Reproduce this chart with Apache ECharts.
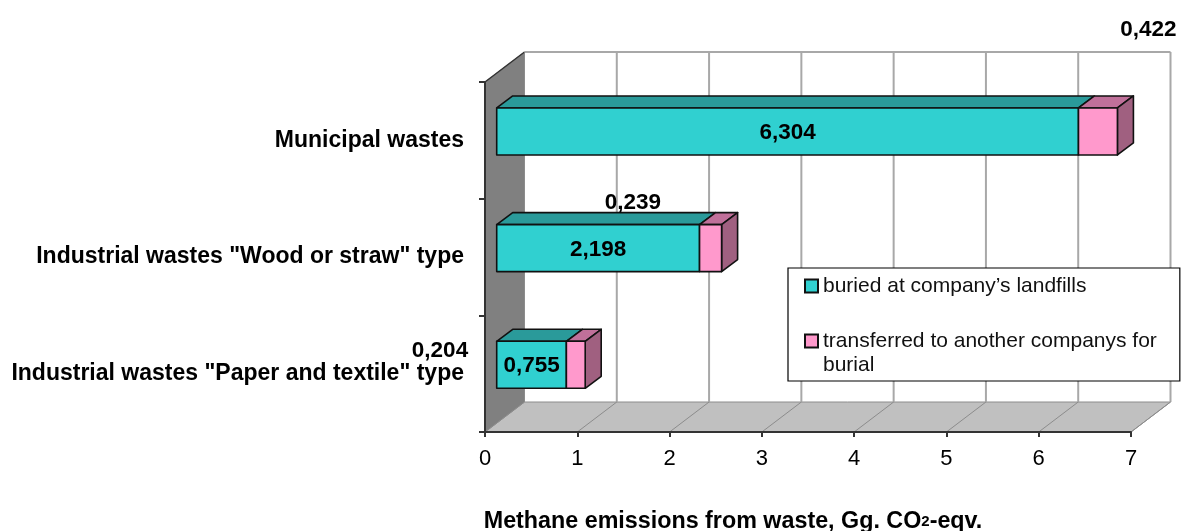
<!DOCTYPE html>
<html>
<head>
<meta charset="utf-8">
<style>html,body{margin:0;padding:0;background:#fff;overflow:hidden}#chart{width:1181px;height:531px}</style>
<script src="https://cdn.jsdelivr.net/npm/echarts@6/dist/echarts.min.js"></script>
</head>
<body>
<div id="chart"></div>
<script>
const categories = ['Municipal wastes', 'Industrial wastes "Wood or straw" type', 'Industrial wastes "Paper and textile" type'];
const buriedValues = [6.304, 2.198, 0.755];
const transferredValues = [0.422, 0.239, 0.204];
const buriedLabels = ['6,304', '2,198', '0,755'];
const transferredLabels = ['0,422', '0,239', '0,204'];
const xTicks = [0, 1, 2, 3, 4, 5, 6, 7];
const buriedName = "buried at company\u2019s landfills";
const transferredName = "transferred to another companys for\nburial";
const axisTitle = 'Methane emissions from waste, Gg. CO';

// styling / projection
const FONT = '"Liberation Sans", Arial, sans-serif';
const WALL = [39.5, -30];          // depth of the plot box
const BAR_START = [11.7, -8.9];    // front of a bar within the depth
const BAR_DEPTH = [16, -12];       // depth of a bar
const BAR_HEIGHT = 47;
const EDGE = '#111';
const LABEL_DROP = 1.5;
const transferredLabelShift = [[50.5, -103], [-77.6, -47], [-135.8, -15.5]];

function frameItem(params, api) {
  const tick = xTicks[params.dataIndex];
  const cs = params.coordSys;
  const x = api.coord([tick, 0])[0];
  const top = cs.y, bottom = cs.y + cs.height, left = cs.x, right = cs.x + cs.width;
  const children = [];
  const grey = {stroke: '#a8a8a8', lineWidth: 2};
  if (params.dataIndex === 0) {
    children.push({type: 'polygon', shape: {points: [[left, bottom], [right, bottom], [right + WALL[0], bottom + WALL[1]], [left + WALL[0], bottom + WALL[1]]]}, style: {fill: '#c0c0c0', stroke: '#8c8c8c', lineWidth: 1}});
    children.push({type: 'polygon', shape: {points: [[left, bottom], [left, top], [left + WALL[0], top + WALL[1]], [left + WALL[0], bottom + WALL[1]]]}, style: {fill: '#808080', stroke: '#8c8c8c', lineWidth: 1}});
    children.push({type: 'line', shape: {x1: left, y1: top, x2: left + WALL[0], y2: top + WALL[1]}, style: {stroke: '#333', lineWidth: 1.5}});
    children.push({type: 'line', shape: {x1: left + WALL[0], y1: top + WALL[1], x2: right + WALL[0], y2: top + WALL[1]}, style: grey});
  }
  if (tick > 0) {
    children.push({type: 'line', shape: {x1: x + WALL[0], y1: top + WALL[1], x2: x + WALL[0], y2: bottom + WALL[1]}, style: grey});
    children.push({type: 'line', shape: {x1: x, y1: bottom, x2: x + WALL[0], y2: bottom + WALL[1]}, style: {stroke: '#8c8c8c', lineWidth: 1}});
  }
  return {type: 'group', children};
}

function barItem(colors, values, bases, labels, shifts, hasEnd) {
  return function (params, api) {
    const i = params.dataIndex;
    const start = api.coord([bases ? bases[i] : 0, i]);
    const end = api.coord([(bases ? bases[i] : 0) + values[i], i]);
    const x0 = start[0] + BAR_START[0], x1 = end[0] + BAR_START[0];
    const yc = start[1] + BAR_START[1];
    const y0 = yc - BAR_HEIGHT / 2, y1 = yc + BAR_HEIGHT / 2;
    const dx = BAR_DEPTH[0], dy = BAR_DEPTH[1];
    const line = {stroke: EDGE, lineWidth: 1.6, lineJoin: 'round'};
    const children = [
      {type: 'polygon', shape: {points: [[x0, y0], [x1, y0], [x1 + dx, y0 + dy], [x0 + dx, y0 + dy]]}, style: Object.assign({fill: colors.top}, line)}
    ];
    if (hasEnd) {
      children.push({type: 'polygon', shape: {points: [[x1, y0], [x1 + dx, y0 + dy], [x1 + dx, y1 + dy], [x1, y1]]}, style: Object.assign({fill: colors.side}, line)});
    }
    children.push({type: 'rect', shape: {x: x0, y: y0, width: x1 - x0, height: y1 - y0}, style: Object.assign({fill: colors.front}, line)});
    const shift = shifts ? shifts[i] : [0, 0];
    children.push({type: 'text', z2: 10, style: {
      text: labels[i], x: (x0 + x1) / 2 + shift[0], y: yc + shift[1] + LABEL_DROP,
      align: 'center', verticalAlign: 'middle',
      font: 'bold 22.5px ' + FONT, fill: '#000'
    }});
    return {type: 'group', children};
  };
}

const legendText = {fontFamily: FONT, fontSize: 21, lineHeight: 24, color: '#111'};
const chart = echarts.init(document.getElementById('chart'), null, {renderer: 'canvas'});
chart.setOption({
  animation: false,
  backgroundColor: '#fff',
  grid: {left: 485, right: 50, top: 82, bottom: 99, containLabel: false, outerBoundsMode: 'none'},
  legend: {
    data: [
      {name: buriedName, icon: 'rect', itemStyle: {color: '#30d0d0', borderColor: '#111', borderWidth: 2}},
      {name: transferredName, icon: 'rect', itemStyle: {color: '#ff99cc', borderColor: '#111', borderWidth: 2}}
    ],
    // a blank first line keeps the icon level with the first line of the wrapped entry
    formatter: name => (name === transferredName ? '\n' + name : name),
    orient: 'vertical', left: 788, top: 268,
    padding: [6, 23, 4, 16],
    itemWidth: 13, itemHeight: 13, itemGap: 7,
    backgroundColor: '#fff', borderColor: '#000', borderWidth: 1.2,
    selectedMode: false, z: 20,
    textStyle: legendText
  },
  xAxis: {
    type: 'value', min: 0, max: 7, interval: 1,
    splitLine: {show: false},
    axisLine: {show: true, lineStyle: {color: '#333', width: 2}},
    axisTick: {show: true, length: 5, lineStyle: {color: '#333', width: 2}},
    axisLabel: {fontFamily: FONT, fontSize: 22, color: '#000', margin: 16},
    name: '{b|' + axisTitle + '}{s|2}{b|-eqv.}',
    nameLocation: 'middle', nameGap: 78,
    nameTextStyle: {padding: [0, 150, 0, 0], rich: {
      b: {fontFamily: FONT, fontSize: 23.3, fontWeight: 'bold', color: '#000'},
      s: {fontFamily: FONT, fontSize: 15, fontWeight: 'bold', color: '#000'}
    }}
  },
  yAxis: {
    type: 'category', inverse: true, data: categories,
    axisLine: {show: true, lineStyle: {color: '#333', width: 2}},
    axisTick: {show: true, length: 6, alignWithLabel: false, lineStyle: {color: '#333', width: 2}},
    axisLabel: {fontFamily: FONT, fontSize: 23, fontWeight: 'bold', color: '#000', margin: 21}
  },
  series: [
    {name: 'frame', type: 'custom', coordinateSystem: 'cartesian2d', silent: true, z: 0,
     clip: false, data: xTicks.map(t => [t, 0]), encode: {x: 0, y: 1}, renderItem: frameItem},
    {name: buriedName, type: 'custom', coordinateSystem: 'cartesian2d', z: 2, clip: false,
     itemStyle: {color: '#30d0d0'},
     data: buriedValues.map((v, i) => [v, i]), encode: {x: 0, y: 1},
     renderItem: barItem({front: '#30d0d0', top: '#2a9a9a', side: '#2a9a9a'}, buriedValues, null, buriedLabels, null, false)},
    {name: transferredName, type: 'custom', coordinateSystem: 'cartesian2d', z: 3, clip: false,
     itemStyle: {color: '#ff99cc'},
     data: transferredValues.map((v, i) => [buriedValues[i] + v, i]), encode: {x: 0, y: 1},
     renderItem: barItem({front: '#ff99cc', top: '#c0709a', side: '#a06080'}, transferredValues, buriedValues, transferredLabels, transferredLabelShift, true)}
  ]
});
</script>
</body>
</html>
